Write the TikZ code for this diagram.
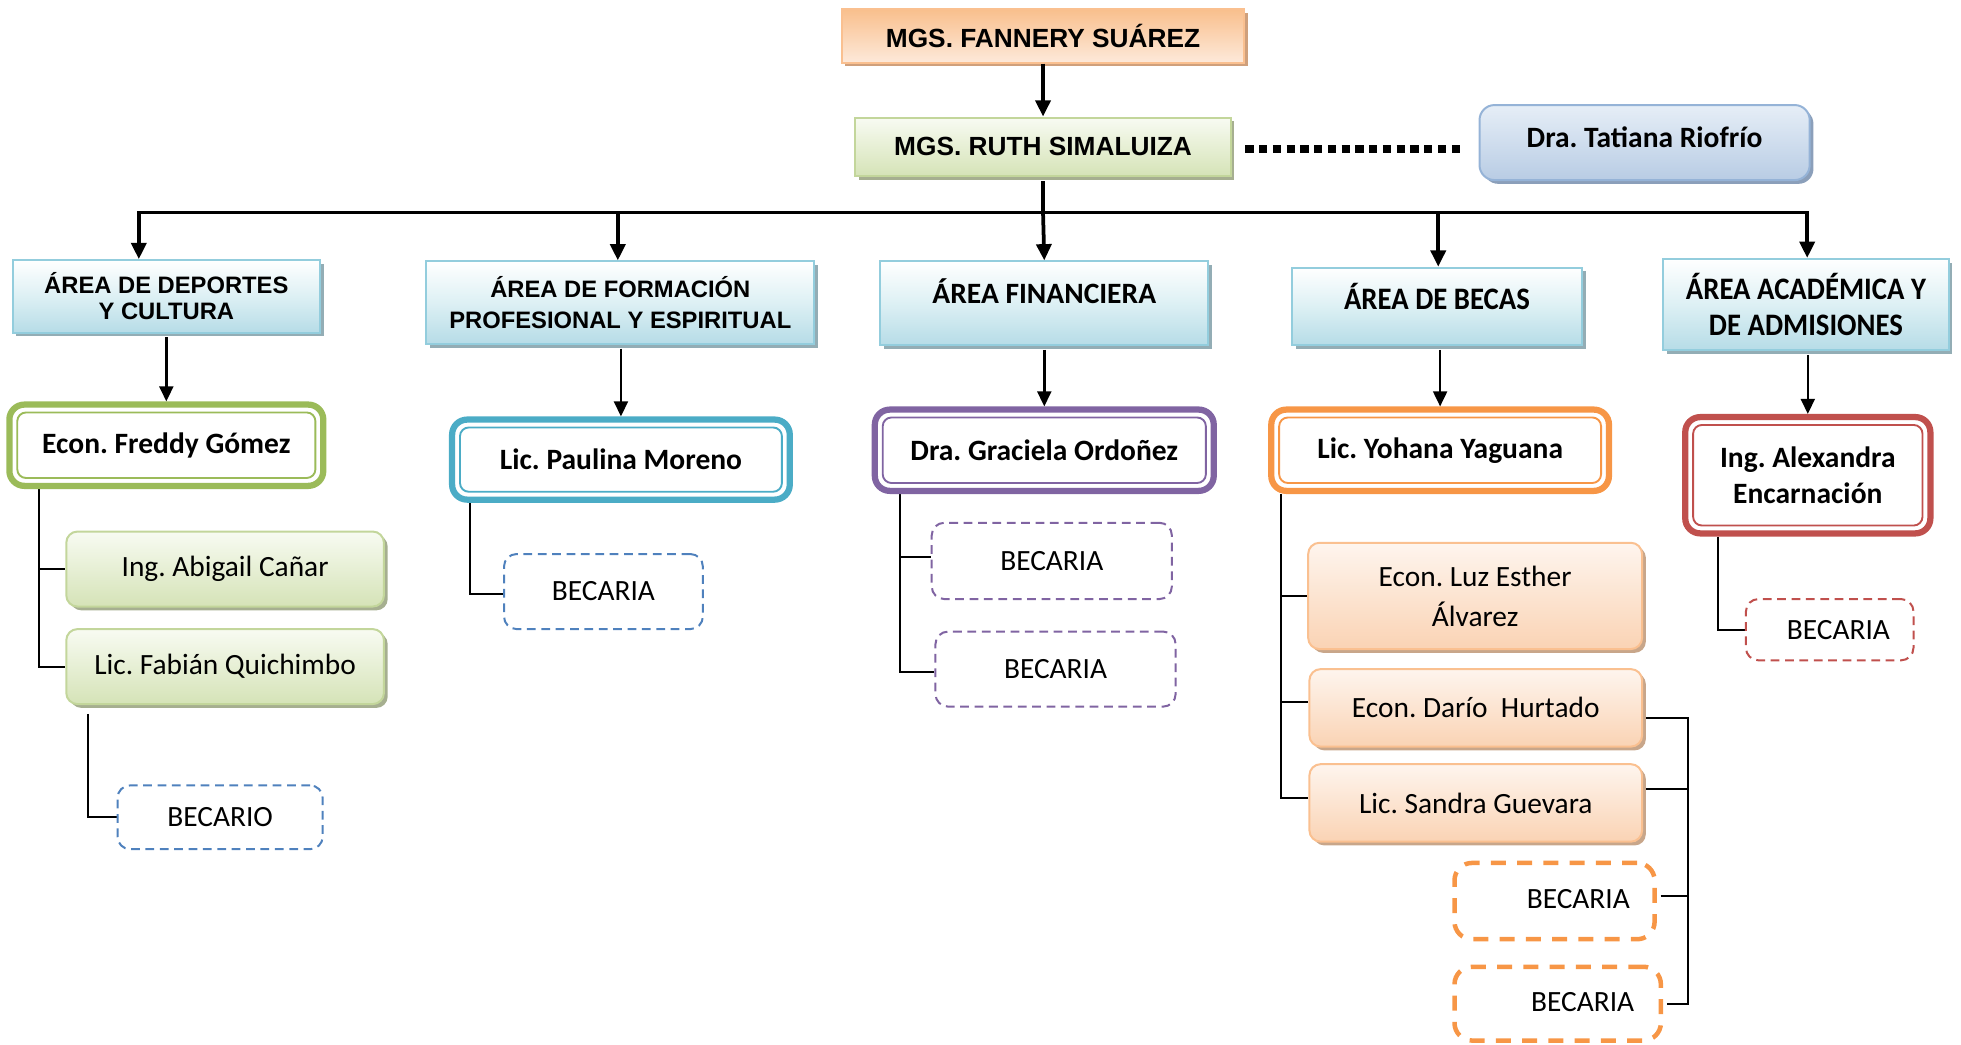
\documentclass[tikz,border=0pt]{standalone}
\usepackage{fontspec}
\setmainfont{Carlito}
\newfontfamily\lib{Liberation Sans}
\newfontfamily\cbcond{Carlito}[FakeStretch=0.92]
\usetikzlibrary{arrows.meta,backgrounds}
\frenchspacing

% fills, borders and shadows
\definecolor{fanTop}{HTML}{F9BF8C}
\definecolor{fanBot}{HTML}{FDE9DA}
\definecolor{fanLine}{HTML}{FAC090}
\definecolor{fanShd}{HTML}{CFA07C}
\definecolor{grnTop}{HTML}{F8FBF2}
\definecolor{grnBot}{HTML}{D5E3B7}
\definecolor{grnLine}{HTML}{C3D69B}
\definecolor{grnShd}{HTML}{A6AF90}
\definecolor{tatTop}{HTML}{E6EEF7}
\definecolor{tatBot}{HTML}{B8CCE4}
\definecolor{tatLine}{HTML}{95B3D7}
\definecolor{tatShd}{HTML}{8B9FBA}
\definecolor{areaMid}{HTML}{DDF0F4}
\definecolor{areaBot}{HTML}{B6DCE7}
\definecolor{areaLine}{HTML}{93CDDD}
\definecolor{areaShd}{HTML}{93ADB5}
\definecolor{orTop}{HTML}{FEF5EE}
\definecolor{orBot}{HTML}{FAD3B4}
\definecolor{orLine}{HTML}{FAC090}
\definecolor{orShd}{HTML}{C8A68A}
\definecolor{hGreen}{HTML}{9BBB59}
\definecolor{hBlue}{HTML}{4BACC6}
\definecolor{hPurple}{HTML}{8064A2}
\definecolor{hOrange}{HTML}{F79646}
\definecolor{hRed}{HTML}{C0504D}
\definecolor{dBlue}{HTML}{4F81BD}

\tikzset{
  shadowed/.style={preaction={fill=#1, transform canvas={shift={(3pt,-3pt)}}}},
  basebox/.style={shape=rectangle, inner sep=0pt, align=center, text=black},
  libtop/.style={font=\fontsize{21}{25}\selectfont\lib\bfseries},
  libarea/.style={font=\fontsize{19}{#1}\selectfont\lib\bfseries},
  cbold/.style={font=\fontsize{23.6}{29}\selectfont\bfseries},
  creg/.style={font=\fontsize{23.5}{32}\selectfont},
  ccond/.style={font=\fontsize{25}{29}\selectfont\cbcond\bfseries},
  fanbox/.style={basebox, draw=fanLine, line width=1.6pt, top color=fanTop, bottom color=fanBot, shadowed=fanShd, libtop},
  ruthbox/.style={basebox, draw=grnLine, line width=1.6pt, top color=grnTop, bottom color=grnBot, shadowed=grnShd, libtop},
  tatbox/.style={basebox, rounded corners=12pt, draw=tatLine, line width=1.6pt, top color=tatTop, bottom color=tatBot, shadowed=tatShd},
  areabox/.style={basebox, draw=areaLine, line width=1.6pt, top color=white, bottom color=areaBot, middle color=areaMid, shadowed=areaShd},
  headbox/.style={basebox, rounded corners=12pt, draw=#1, line width=5pt, fill=white, cbold,
    path picture={\draw[draw=#1, line width=1.5pt, rounded corners=7pt]
      ([shift={(6.3pt,6.3pt)}]path picture bounding box.south west) rectangle
      ([shift={(-6.3pt,-6.3pt)}]path picture bounding box.north east);}},
  subgreen/.style={basebox, rounded corners=9pt, draw=grnLine, line width=1.6pt, top color=grnTop, bottom color=grnBot, shadowed=grnShd, creg},
  suborange/.style={basebox, rounded corners=9pt, draw=orLine, line width=1.6pt, top color=orTop, bottom color=orBot, shadowed=orShd, creg},
  dashbox/.style={basebox, rounded corners=10pt, draw=#1, line width=1.6pt, dash pattern=on 7pt off 4.5pt, creg},
  dashbig/.style={basebox, rounded corners=14pt, draw=hOrange, line width=3.6pt, dash pattern=on 12pt off 9pt},
  mainarrow/.style={line width=3pt, line join=miter, -{Triangle[width=12pt,length=13pt]}},
  subarrow/.style={line width=2pt, -{Triangle[width=11pt,length=12pt]}},
  conn/.style={line width=1.5pt, line join=miter},
  dotline/.style={line width=6pt, dash pattern=on 6.5pt off 4.5pt},
}

\begin{document}
\begin{tikzpicture}[x=1pt,y=-1pt]
\useasboundingbox (0,0) rectangle (1568,835);

% top of the chart
\node[fanbox, minimum width=322pt, minimum height=43pt] (fannery) at (834,28.5) {MGS. FANNERY SUÁREZ};
\node[ruthbox, minimum width=300pt, minimum height=47pt] (ruth) at (834,117.5) {MGS. RUTH SIMALUIZA};
\node[tatbox, minimum width=264pt, minimum height=60pt,
      label={[cbold, yshift=4pt]center:Dra. Tatiana Riofrío}] (tatiana) at (1315,114) {};

% areas
\node[areabox, libarea=21, minimum width=246pt, minimum height=58pt] (a1) at (133,237) {ÁREA DE DEPORTES\\Y CULTURA};
\node[areabox, libarea=25, minimum width=310pt, minimum height=66pt] (a2) at (496,242) {ÁREA DE FORMACIÓN\\PROFESIONAL Y ESPIRITUAL};
\node[areabox, minimum width=262pt, minimum height=67pt,
      label={[cbold, yshift=9.5pt]center:ÁREA FINANCIERA}] (a3) at (835,242.5) {};
\node[areabox, minimum width=232pt, minimum height=62pt,
      label={[ccond, yshift=8pt]center:ÁREA DE BECAS}] (a4) at (1149,245) {};
\node[areabox, ccond, minimum width=228pt, minimum height=73pt] (a5) at (1444,243.5) {ÁREA ACADÉMICA Y\\DE ADMISIONES};

% heads of area
\node[headbox=hGreen, minimum width=251pt, minimum height=65pt] (freddy) at (133,356) {Econ. Freddy Gómez};
\node[headbox=hBlue, minimum width=270pt, minimum height=64pt] (paulina) at (496.5,367.5) {Lic. Paulina Moreno};
\node[headbox=hPurple, minimum width=271pt, minimum height=65pt] (graciela) at (835,360) {Dra. Graciela Ordoñez};
\node[headbox=hOrange, minimum width=270pt, minimum height=65pt] (yohana) at (1151.5,360) {Lic. Yohana Yaguana};
\node[headbox=hRed, minimum width=196pt, minimum height=93pt] (alexandra) at (1445.5,380) {Ing. Alexandra\\Encarnación};

% staff
\node[subgreen, minimum width=254pt, minimum height=60pt] (abigail) at (180,455) {Ing. Abigail Cañar};
\node[subgreen, minimum width=254pt, minimum height=60pt] (fabian) at (180,533) {Lic. Fabián Quichimbo};
\node[suborange, minimum width=267pt, minimum height=85pt] (luz) at (1179.5,476.5) {Econ. Luz Esther\\Álvarez};
\node[suborange, minimum width=266pt, minimum height=62pt] (dario) at (1180,566) {Econ. Darío~~Hurtado};
\node[suborange, minimum width=266pt, minimum height=62pt] (sandra) at (1180,642) {Lic. Sandra Guevara};

% scholarship holders
\node[dashbox=dBlue, minimum width=164pt, minimum height=51pt] (becario) at (176,653.5) {BECARIO};
\node[dashbox=dBlue, minimum width=159pt, minimum height=60pt] (bp) at (482.5,473) {BECARIA};
\node[dashbox=hPurple, minimum width=192pt, minimum height=61pt] (bg1) at (841,448.5) {BECARIA};
\node[dashbox=hPurple, minimum width=192pt, minimum height=60pt] (bg2) at (844,535) {BECARIA};
\node[dashbig, minimum width=160pt, minimum height=61pt,
      label={[creg, xshift=19pt, yshift=2pt]center:BECARIA}] (by1) at (1243,720.5) {};
\node[dashbig, minimum width=165pt, minimum height=59pt,
      label={[creg, xshift=20pt, yshift=1pt]center:BECARIA}] (by2) at (1245.5,802.5) {};
\node[dashbox=hRed, minimum width=134pt, minimum height=49pt,
      label={[creg, xshift=7pt]center:BECARIA}] (ba) at (1463,503.5) {};

% hierarchy arrows
\coordinate (hub) at (834,170);
\draw[mainarrow] (fannery) -- (ruth);
\draw[dotline] ([xshift=11pt,yshift=-1.5pt]ruth.east) -- ([xshift=-15pt,yshift=-1.5pt]ruth.east -| tatiana.west);
\draw[line width=3pt] ([yshift=-3pt]ruth.south) -- (hub);
\draw[mainarrow] (hub) -| ([xshift=-22pt]a1.north);
\draw[mainarrow] (hub) -| ([xshift=-2pt]a2.north);
\draw[mainarrow] (hub) -- (a3.north);
\draw[mainarrow] (hub) -| ([xshift=1pt]a4.north);
\draw[mainarrow] (hub) -| ([xshift=1pt]a5.north);

\draw[subarrow] ([yshift=-3pt]a1.south) -- (freddy.north);
\draw[subarrow] ([yshift=-3pt]a2.south -| paulina.north) -- (paulina.north);
\draw[subarrow] ([yshift=-3pt]a3.south) -- (graciela.north);
\draw[subarrow] ([yshift=-3pt]a4.south -| yohana.north) -- (yohana.north);
\draw[subarrow] ([yshift=-3pt]a5.south -| alexandra.north) -- (alexandra.north);

% staff connectors
\begin{pgfonlayer}{background}
\draw[conn] ([xshift=26.5pt]freddy.south west) |- (abigail.west);
\draw[conn] ([xshift=26.5pt]freddy.south west) |- (fabian.west);
\draw[conn] ([xshift=18.5pt,yshift=-7pt]fabian.south west) |- (becario.west);
\draw[conn] ([xshift=16.5pt]paulina.south west) |- ([yshift=-2pt]bp.west);
\draw[conn] ([xshift=22.5pt]graciela.south west) |- ([yshift=3pt]bg1.west);
\draw[conn] ([xshift=22.5pt]graciela.south west) |- ([yshift=-2pt]bg2.west);
\draw[conn] ([xshift=10.5pt]yohana.south west) |- (luz.west);
\draw[conn] ([xshift=10.5pt]yohana.south west) |- ([yshift=5pt]dario.west);
\draw[conn] ([xshift=10.5pt]yohana.south west) |- ([yshift=4pt]sandra.west);
\draw[conn] ([xshift=28.5pt]alexandra.south west) |- (ba.west);
\coordinate (rail) at (1350,0);
\draw[conn] ([yshift=-8pt]dario.east) -| (rail |- by2.east) -- ([xshift=3pt]by2.east);
\draw[conn] ([yshift=11pt]sandra.east) -- ([yshift=11pt]sandra.east -| rail);
\draw[conn] ([xshift=3pt,yshift=4pt]by1.east) -- ([yshift=4pt]by1.east -| rail);
\end{pgfonlayer}
\end{tikzpicture}
\end{document}
